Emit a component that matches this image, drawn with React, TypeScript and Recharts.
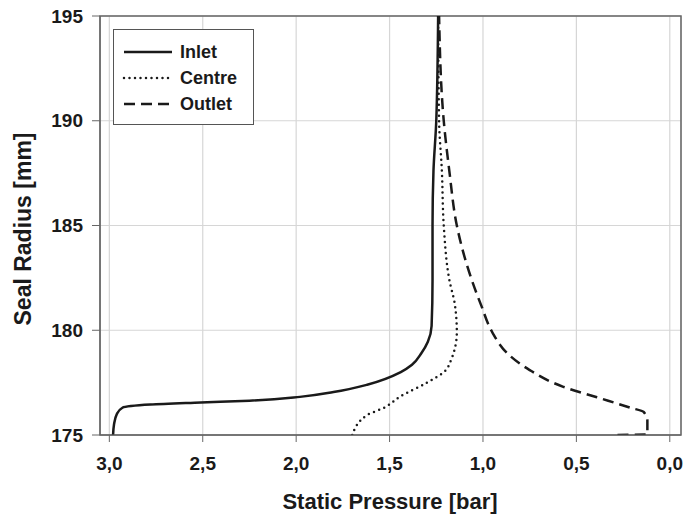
import { CartesianGrid, Label, Line, LineChart, ReferenceArea, XAxis, YAxis } from "recharts";

type Pt = { p: number; r: number };

// static pressure [bar] vs seal radius [mm]
const inlet: Pt[] = [
  { p: 2.98, r: 175.0 },
  { p: 2.975, r: 175.5 },
  { p: 2.96, r: 176.0 },
  { p: 2.93, r: 176.3 },
  { p: 2.78, r: 176.45 },
  { p: 2.51, r: 176.55 },
  { p: 2.25, r: 176.64 },
  { p: 1.98, r: 176.82 },
  { p: 1.8, r: 177.05 },
  { p: 1.62, r: 177.4 },
  { p: 1.44, r: 178.0 },
  { p: 1.38, r: 178.35 },
  { p: 1.33, r: 178.9 },
  { p: 1.295, r: 179.45 },
  { p: 1.275, r: 180.2 },
  { p: 1.27, r: 182.4 },
  { p: 1.27, r: 185.0 },
  { p: 1.265, r: 187.6 },
  { p: 1.25, r: 190.0 },
  { p: 1.24, r: 195.0 },
];

const centre: Pt[] = [
  { p: 1.7, r: 175.0 },
  { p: 1.62, r: 175.95 },
  { p: 1.53, r: 176.3 },
  { p: 1.44, r: 176.85 },
  { p: 1.3, r: 177.5 },
  { p: 1.21, r: 178.0 },
  { p: 1.17, r: 178.6 },
  { p: 1.14, r: 179.9 },
  { p: 1.15, r: 181.2 },
  { p: 1.18, r: 182.4 },
  { p: 1.21, r: 185.0 },
  { p: 1.22, r: 187.6 },
  { p: 1.235, r: 190.0 },
  { p: 1.24, r: 195.0 },
];

const outlet: Pt[] = [
  { p: 0.28, r: 175.0 },
  { p: 0.12, r: 175.03 },
  { p: 0.12, r: 175.7 },
  { p: 0.14, r: 176.1 },
  { p: 0.21, r: 176.3 },
  { p: 0.39, r: 176.8 },
  { p: 0.57, r: 177.3 },
  { p: 0.75, r: 178.1 },
  { p: 0.87, r: 178.9 },
  { p: 0.95, r: 179.9 },
  { p: 1.01, r: 181.2 },
  { p: 1.06, r: 182.4 },
  { p: 1.14, r: 185.0 },
  { p: 1.18, r: 187.6 },
  { p: 1.21, r: 190.0 },
  { p: 1.235, r: 195.0 },
];

const xTicks = [0, 0.5, 1, 1.5, 2, 2.5, 3];
const yTicks = [175, 180, 185, 190, 195];

const FONT = "'Liberation Sans', Arial, sans-serif";
const INK = "#1a1a1a";

const series = [
  { name: "Inlet", data: inlet, dash: undefined as string | undefined, cap: "butt" as const },
  { name: "Centre", data: centre, dash: "0 5.5", cap: "round" as const },
  { name: "Outlet", data: outlet, dash: "11 6", cap: "butt" as const },
];

const fmt = (v: number) => v.toFixed(1).replace(".", ",");

function LegendBox() {
  return (
    <div
      style={{
        position: "absolute",
        left: 113,
        top: 29,
        border: "1.5px solid #555",
        background: "#fff",
        width: 139,
        padding: "9px 0 7px 0",
        fontFamily: FONT,
        fontWeight: 700,
        fontSize: 18,
        color: INK,
      }}
    >
      {series.map((s) => (
        <div key={s.name} style={{ display: "flex", alignItems: "center", height: 26 }}>
          <svg width={64} height={10} style={{ marginLeft: 2 }}>
            <line
              x1={8}
              x2={56}
              y1={5}
              y2={5}
              stroke={INK}
              strokeWidth={2.5}
              strokeDasharray={s.dash}
              strokeLinecap={s.cap}
            />
          </svg>
          <span>{s.name}</span>
        </div>
      ))}
    </div>
  );
}

export default function App() {
  return (
    <div style={{ position: "absolute", left: 0, top: 0, width: 688, height: 520, background: "#fff" }}>
      <LineChart layout="vertical" width={688} height={520} margin={{ top: 16, right: 7, bottom: 35, left: 40 }}>
        <CartesianGrid stroke="#d6d6d6" strokeWidth={1.2} />
        <XAxis
          type="number"
          dataKey="p"
          domain={[-0.06, 3.05]}
          reversed
          ticks={xTicks}
          tickFormatter={fmt}
          allowDataOverflow
          height={50}
          tickSize={7}
          tickMargin={15}
          stroke="#666"
          tick={{ fill: INK, fontSize: 19, fontWeight: 700, fontFamily: FONT }}
        >
          <Label
            content={() => (
              <text x={390} y={509} textAnchor="middle" fill={INK} fontSize={22} fontWeight={700} fontFamily={FONT}>
                Static Pressure [bar]
              </text>
            )}
          />
        </XAxis>
        <YAxis
          type="number"
          dataKey="r"
          domain={[175, 195]}
          reversed
          ticks={yTicks}
          allowDataOverflow
          width={60}
          tickSize={8}
          tickMargin={9}
          stroke="#666"
          tick={{ fill: INK, fontSize: 19, fontWeight: 700, fontFamily: FONT }}
        >
          <Label
            content={() => (
              <text
                x={23}
                y={229}
                textAnchor="middle"
                dominantBaseline="central"
                transform="rotate(-90 23 229)"
                fill={INK}
                fontSize={23}
                fontWeight={700}
                fontFamily={FONT}
              >
                Seal Radius [mm]
              </text>
            )}
          />
        </YAxis>
        <ReferenceArea x1={-0.06} x2={3.05} y1={175} y2={195} fill="none" stroke="#666" strokeWidth={1.5} ifOverflow="visible" />
        {series.map((s) => (
          <Line
            key={s.name}
            name={s.name}
            data={s.data}
            dataKey="p"
            type="monotoneY"
            isAnimationActive={false}
            dot={false}
            activeDot={false}
            stroke={INK}
            strokeWidth={2.5}
            strokeDasharray={s.dash}
            strokeLinecap={s.cap}
          />
        ))}
      </LineChart>
      <LegendBox />
    </div>
  );
}
